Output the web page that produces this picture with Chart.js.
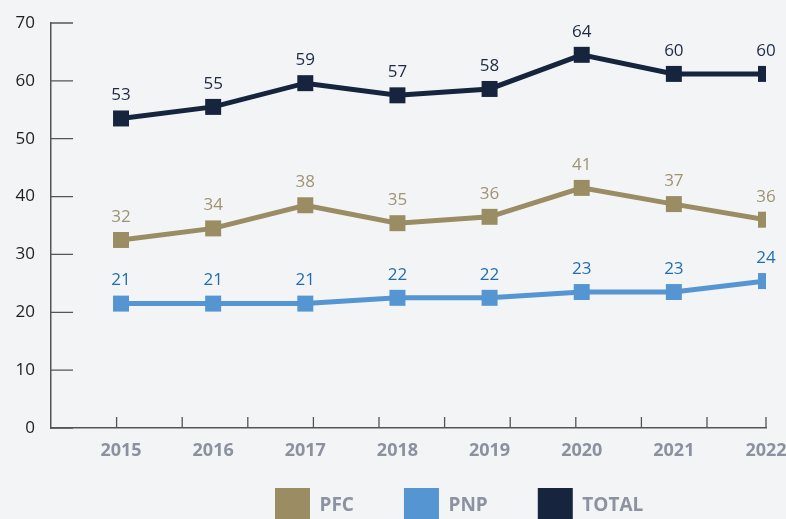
<!DOCTYPE html>
<html><head><meta charset="utf-8">
<script src="https://cdn.jsdelivr.net/npm/chart.js@4.4.1/dist/chart.umd.min.js"></script>
<style>
html,body{margin:0;padding:0;background:#f3f4f6;overflow:hidden;}
#wrap{width:786px;height:519px;overflow:hidden;position:relative;background:#f3f4f6;}
canvas{position:absolute;left:0;top:0;}
</style></head><body>
<div id="wrap"><canvas id="c" width="786" height="560"></canvas></div>
<script>
// ---- data ----
const years = [2015, 2016, 2017, 2018, 2019, 2020, 2021, 2022];
const seriesNames = ['PFC', 'PNP', 'TOTAL'];
// plotted marker heights
const pfcValues   = [32.5, 34.5, 38.5, 35.4, 36.5, 41.5, 38.7, 36.0];
const pnpValues   = [21.5, 21.5, 21.5, 22.5, 22.5, 23.5, 23.5, 25.4];
const totalValues = [53.5, 55.5, 59.6, 57.5, 58.6, 64.5, 61.2, 61.2];
// printed value labels
const pfcLabels   = ['32', '34', '38', '35', '36', '41', '37', '36'];
const pnpLabels   = ['21', '21', '21', '22', '22', '23', '23', '24'];
const totalLabels = ['53', '55', '59', '57', '58', '64', '60', '60'];
const yTickValues = [0, 10, 20, 30, 40, 50, 60, 70];

const FONT = '"Open Sans", Lato, sans-serif';

const axisMarks = {
  id: 'axisMarks',
  beforeDatasetsDraw(chart, args, o) {
    const {ctx, chartArea: a, scales: {y}} = chart;
    ctx.save();
    ctx.strokeStyle = o.color; ctx.lineWidth = o.width;
    ctx.beginPath();
    y.ticks.forEach(t => {
      const py = y.getPixelForValue(t.value);
      ctx.moveTo(a.left, py); ctx.lineTo(a.left + o.yLen, py);
    });
    for (let k = 1; a.left + k * o.xStep < a.right - 10; k++) {
      const px = a.left + k * o.xStep;
      ctx.moveTo(px, a.bottom); ctx.lineTo(px, a.bottom - o.xLen);
    }
    ctx.moveTo(a.right, a.bottom); ctx.lineTo(a.right, a.bottom - o.xLen);
    ctx.stroke();
    ctx.restore();
  }
};

const valueLabels = {
  id: 'valueLabels',
  afterDatasetsDraw(chart, args, o) {
    const {ctx} = chart;
    ctx.save();
    ctx.font = o.font; ctx.textAlign = 'center'; ctx.textBaseline = 'middle';
    chart.data.datasets.forEach((ds, i) => {
      const meta = chart.getDatasetMeta(i);
      ctx.fillStyle = ds.valueLabelColor;
      meta.data.forEach((pt, j) => ctx.fillText(ds.valueLabels[j], pt.x, pt.y - o.offset));
    });
    ctx.restore();
  }
};

// place the legend row where it sits in the reference
const legendShift = {
  id: 'legendShift',
  afterLayout(chart, args, o) {
    const l = chart.legend;
    if (!l || !l.lineWidths) return;
    const pad = l.options.labels.padding;
    const start = (l.left + pad + l.right - l.lineWidths[0]) / 2;
    const dx = o.boxLeft - start;
    const dy = o.boxTop - (l.top + pad);
    l.left += dx; l.right += dx;
    l.top += dy; l.bottom += dy;
  }
};

new Chart(document.getElementById('c'), {
  type: 'line',
  data: {
    labels: years,
    datasets: [
      {label: seriesNames[0], data: pfcValues, valueLabels: pfcLabels,
       borderColor: '#9a8c63', backgroundColor: '#9a8c63', valueLabelColor: '#a09373'},
      {label: seriesNames[1], data: pnpValues, valueLabels: pnpLabels,
       borderColor: '#5595d1', backgroundColor: '#5595d1', valueLabelColor: '#1f6daf'},
      {label: seriesNames[2], data: totalValues, valueLabels: totalLabels,
       borderColor: '#16253d', backgroundColor: '#16253d', valueLabelColor: '#1c2a44'}
    ].map(d => Object.assign(d, {
      borderWidth: 5, tension: 0, fill: false,
      pointStyle: 'rect', pointRadius: 11.3, pointHoverRadius: 11.3,
      pointBorderWidth: 0, pointBackgroundColor: d.borderColor
    }))
  },
  options: {
    responsive: false,
    animation: false,
    events: [],
    layout: {padding: {top: 23, right: 20, bottom: 3, left: 0}},
    scales: {
      x: {
        type: 'linear', min: 2014.24, max: 2022,
        grid: {display: true, drawOnChartArea: false, drawTicks: false},
        border: {display: true, color: '#555', width: 1.5},
        ticks: {
          stepSize: 1, autoSkip: false, maxRotation: 0, padding: 12, includeBounds: false,
          color: '#8a92a0', font: {family: FONT, size: 18, weight: 'bold'},
          callback: v => Number.isInteger(v) ? String(v) : ''
        },
        afterBuildTicks(s) { s.ticks = years.map(v => ({value: v})); },
        afterFit(s) { s.height = 34; s.paddingRight = 0; s.paddingLeft = 0; }
      },
      y: {
        min: 0, max: 70,
        grid: {display: true, drawOnChartArea: false, drawTicks: false},
        border: {display: true, color: '#555', width: 1.5},
        ticks: {padding: 16, color: '#1e1e1e', font: {family: FONT, size: 17}},
        afterBuildTicks(s) { s.ticks = yTickValues.map(v => ({value: v})); },
        afterFit(s) { s.width = 51; s.paddingTop = 0; s.paddingBottom = 0; }
      }
    },
    plugins: {
      tooltip: {enabled: false},
      legend: {
        position: 'bottom',
        labels: {
          boxWidth: 35, boxHeight: 35, padding: 50,
          color: '#8b93a1', font: {family: FONT, size: 19, weight: 'bold'},
          generateLabels: ch => Chart.defaults.plugins.legend.labels.generateLabels(ch)
            .map(it => Object.assign(it, {lineWidth: 0}))
        }
      },
      axisMarks: {color: '#555', width: 1.3, yLen: 22, xLen: 11, xStep: 65.6},
      valueLabels: {font: '17px ' + FONT, offset: 23},
      legendShift: {boxLeft: 275, boxTop: 488}
    }
  },
  plugins: [axisMarks, valueLabels, legendShift]
});
</script>
</body></html>
